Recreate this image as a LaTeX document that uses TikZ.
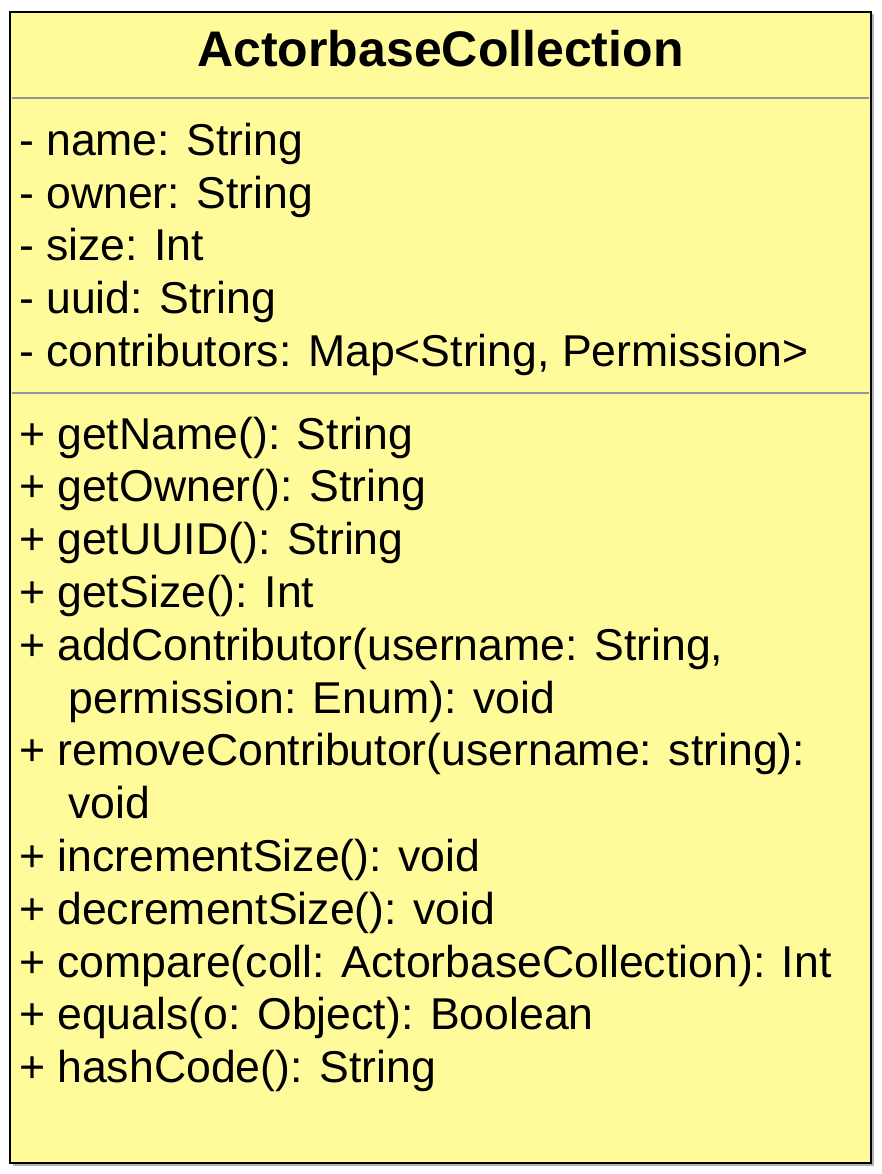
\documentclass[tikz,border=0pt]{standalone}
\usepackage{fontspec}
\setmainfont{Liberation Sans}
\definecolor{classfill}{RGB}{255,251,155}
\definecolor{sepgray}{RGB}{150,150,150}
\begin{document}
\begin{tikzpicture}[x=1pt,y=-1pt,
  member/.style={anchor=base west,inner sep=0pt,outer sep=0pt,font=\fontsize{44.6}{52}\selectfont,text=black},
  titletext/.style={anchor=base,inner sep=0pt,outer sep=0pt,font=\fontsize{50}{58}\selectfont\bfseries,text=black},
  sep/.style={draw=sepgray,line width=2pt},
  classbox/.style={draw=black,fill=classfill,line width=2.4pt}]
\useasboundingbox (0,0) rectangle (882,1174);
\fill[gray!60] (12.5,14.5) rectangle (873.5,1165.5);
\path[classbox] (10,12) rectangle (871,1163);
\coordinate (s1a) at (11.5,98.5);
\coordinate (s1b) at (868.5,98.5);
\coordinate (s2a) at (11.5,393);
\coordinate (s2b) at (868.5,393);
\draw[sep] (s1a) -- (s1b);
\draw[sep] (s2a) -- (s2b);
\node[titletext] (title) at (440.5,67) {ActorbaseCollection};
\node[member] (a1) at (19,156) {- name: String};
\node[member] (a2) at (19,208.5) {- owner: String};
\node[member] (a3) at (19,261) {- size: Int};
\node[member] (a4) at (19,313.5) {- uuid: String};
\node[member] (a5) at (19,366) {- contributors: Map<String, Permission>};
\node[member] (m1) at (19,449) {+ getName(): String};
\node[member] (m2) at (19,501.8) {+ getOwner(): String};
\node[member] (m3) at (19,554.6) {+ getUUID(): String};
\node[member] (m4) at (19,607.4) {+ getSize(): Int};
\node[member] (m5) at (19,660.2) {+ addContributor(username: String,};
\node[member] (m5b) at (68.5,713) {permission: Enum): void};
\node[member] (m6) at (19,765.8) {+ removeContributor(username: string):};
\node[member] (m6b) at (68.5,818.6) {void};
\node[member] (m7) at (19,871.4) {+ incrementSize(): void};
\node[member] (m8) at (19,924.2) {+ decrementSize(): void};
\node[member] (m9) at (19,977) {+ compare(coll: ActorbaseCollection): Int};
\node[member] (m10) at (19,1029.8) {+ equals(o: Object): Boolean};
\node[member] (m11) at (19,1082.6) {+ hashCode(): String};
\end{tikzpicture}
\end{document}
